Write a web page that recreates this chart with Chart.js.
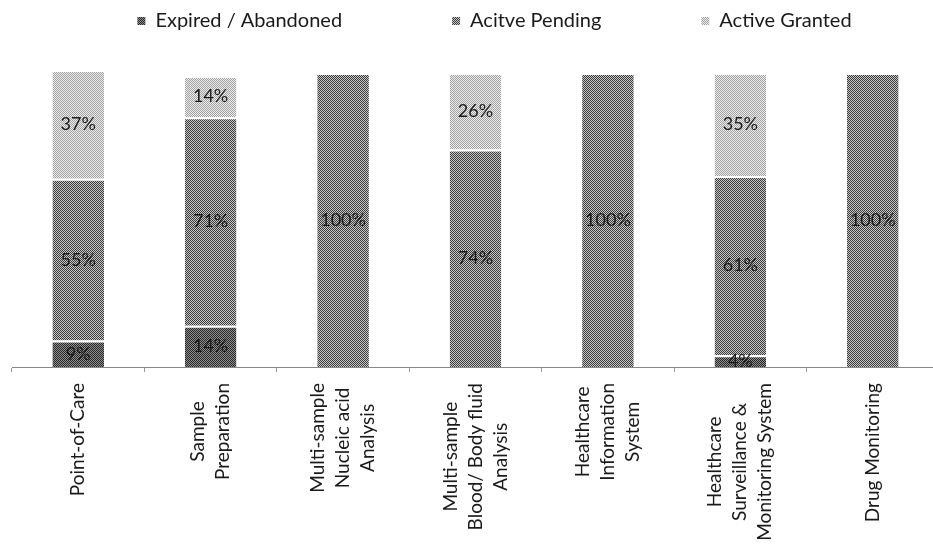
<!DOCTYPE html>
<html>
<head>
<meta charset="utf-8">
<script src="https://cdn.jsdelivr.net/npm/chart.js@4"></script>
<style>
  html, body { margin: 0; background: #fff; overflow: hidden; }
  #wrap { width: 945px; height: 548px; }
</style>
</head>
<body>
<div id="wrap"><canvas id="chart"></canvas></div>
<script>
// ── Data ──────────────────────────────────────────────────────────────────────
const categories = [
  "Point-of-Care",
  ["Sample", "Preparation"],
  ["Multi-sample", "Nucleic acid", "Analysis"],
  ["Multi-sample", "Blood/ Body fluid", "Analysis"],
  ["Healthcare", "Information", "System"],
  ["Healthcare", "Surveillance &", "Monitoring System"],
  "Drug Monitoring",
];
const seriesNames = ["Expired / Abandoned", "Acitve Pending", "Active Granted"];
const expired = [9, 14, 0, 0, 0, 4, 0];
const pending = [55, 71, 100, 74, 100, 61, 100];
const granted = [37, 14, 0, 26, 0, 35, 0];

// ── Hatch patterns ────────────────────────────────────────────────────────────
const ctx = document.getElementById("chart").getContext("2d");

function checker(dark, light) {
  const c = document.createElement("canvas");
  c.width = 2; c.height = 2;
  const g = c.getContext("2d");
  g.fillStyle = light; g.fillRect(0, 0, 2, 2);
  g.fillStyle = dark; g.fillRect(0, 0, 1, 1); g.fillRect(1, 1, 1, 1);
  return ctx.createPattern(c, "repeat");
}

const fills = [checker("#262626", "#909090"), checker("#3c3c3c", "#c6c6c6"), checker("#a0a0a0", "#eeeeee")];

// ── Plugins ───────────────────────────────────────────────────────────────────
// percentage in the middle of every segment
const segLabels = {
  id: "segLabels",
  afterDatasetsDraw(chart) {
    const c = chart.ctx;
    c.save();
    c.font = "18px Lato";
    c.fillStyle = "#1a1a1a";
    c.textAlign = "center";
    c.textBaseline = "middle";
    chart.data.datasets.forEach((ds, i) => {
      chart.getDatasetMeta(i).data.forEach((bar, j) => {
        const v = ds.data[j];
        if (!v) return;
        c.fillText(v + "%", bar.x, (bar.y + bar.base) / 2);
      });
    });
    c.restore();
  },
};

// rotated category labels, each line centred in its block (Excel style)
const catLabels = {
  id: "catLabels",
  afterDraw(chart) {
    const xs = chart.scales.x;
    const c = chart.ctx;
    const lineH = 25;
    c.save();
    c.font = "19px Lato";
    c.fillStyle = "#1a1a1a";
    c.textAlign = "center";
    c.textBaseline = "middle";
    xs.ticks.forEach((t, i) => {
      const lines = [].concat(categories[i]);
      const w = Math.max(...lines.map(s => c.measureText(s).width));
      c.save();
      c.translate(xs.getPixelForTick(i), xs.top + 16);
      c.rotate(-Math.PI / 2);
      lines.forEach((s, k) => c.fillText(s, -w / 2, (k - (lines.length - 1) / 2) * lineH));
      c.restore();
    });
    c.restore();
  },
};

// nudge the legend row to where the original sits
const legendShift = {
  id: "legendShift",
  afterLayout(chart) {
    chart.legend.left += 19;
    chart.legend.right += 19;
  },
};

const font = { family: "Lato", size: 20 };

new Chart(ctx, {
  type: "bar",
  data: {
    labels: categories,
    datasets: [expired, pending, granted].map((d, i) => ({
      label: seriesNames[i],
      data: d,
      backgroundColor: fills[i],
      borderColor: "#fff",
      borderWidth: { top: 2 },
      borderSkipped: false,
      barPercentage: 1,
      categoryPercentage: 0.39,
    })),
  },
  options: {
    responsive: true,
    maintainAspectRatio: false,
    animation: false,
    layout: { padding: { left: 12, right: 6, top: 1, bottom: 176 } },
    plugins: {
      tooltip: { enabled: false },
      legend: {
        position: "top",
        labels: {
          boxWidth: 8,
          boxHeight: 8,
          padding: 10,
          color: "#1a1a1a",
          font,
          generateLabels(chart) {
            const items = Chart.defaults.plugins.legend.labels.generateLabels(chart);
            const pad = [10, 9, 0];
            return items.map((it, i) => ({ ...it, lineWidth: 0, text: it.text + "\u2002".repeat(pad[i]) }));
          },
        },
      },
    },
    scales: {
      x: {
        stacked: true,
        grid: { display: true, drawOnChartArea: false, tickLength: 5, color: "#999", offset: true },
        border: { color: "#888", dash: [1, 1] },
        ticks: { display: false },
      },
      y: { stacked: true, display: false, min: 0, max: 110.9 },
    },
  },
  plugins: [segLabels, catLabels, legendShift],
});
</script>
</body>
</html>
